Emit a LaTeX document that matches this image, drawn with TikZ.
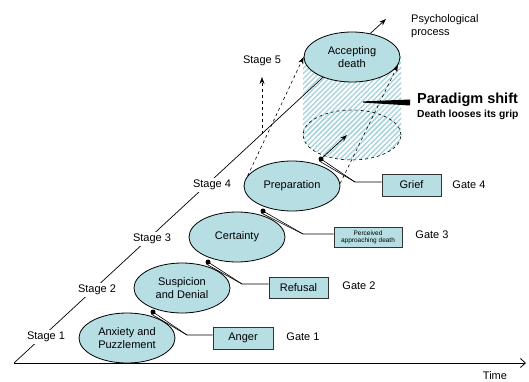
\documentclass[tikz,border=0pt]{standalone}
\usepackage{fontspec}
\setmainfont{Liberation Sans}
\usetikzlibrary{shapes.geometric,arrows.meta,patterns.meta,calc}
\definecolor{pale}{RGB}{183,222,227}
\definecolor{hatchc}{RGB}{168,213,220}
\begin{document}
\begin{tikzpicture}[x=1pt,y=-1pt,
  every node/.style={font=\fontsize{11}{13}\selectfont, text=black},
  stagenode/.style={ellipse, draw=black, line width=0.8pt, fill=pale, minimum width=96pt, minimum height=50pt, inner sep=0pt, align=center},
  gatebox/.style={rectangle, draw=black!80, line width=0.8pt, fill=pale, inner sep=0pt, align=center},
  steplabel/.style={fill=white, inner sep=2pt},
  callout/.style={line width=0.6pt},
  dotmark/.style={circle, fill=black, inner sep=0pt, minimum size=5pt},
  dasharrow/.style={dashed, line width=0.6pt, -{Stealth[length=7pt,width=5pt]}},
  hatchfill/.style={pattern={Lines[angle=45,distance=3.6pt,line width=1.4pt]}, pattern color=hatchc},
  plaintext/.style={inner sep=0pt, anchor=west, align=left}
]
\useasboundingbox (0,0) rectangle (529,382);

% hatched cylinder
\fill[hatchfill] (303,57) rectangle (401,135);
\fill[hatchfill] (352,135) ellipse [x radius=49, y radius=25];
\node[ellipse, draw=black, dashed, line width=0.6pt, minimum width=98pt, minimum height=50pt, inner sep=0pt] (ghost) at (352,135) {};

% axes
\coordinate (origin) at (14,363);
\coordinate (psy) at (386,19);
\coordinate (tend) at (526,363);
\draw[line width=0.7pt, -{Stealth[length=7pt,width=5pt]}] (origin) -- (psy);
\draw[line width=0.8pt, -{Straight Barb[length=5pt,width=9pt]}] (origin) -- (tend);
\node[inner sep=0pt] (time) at (495,376) {Time};
\node[plaintext] (psyl) at (411,26) {Psychological\\process};

% stage labels on the diagonal
\node[steplabel] (st1) at (46,337) {Stage 1};
\node[steplabel] (st2) at (97,290) {Stage 2};
\node[steplabel] (st3) at (152,239) {Stage 3};
\node[steplabel] (st4) at (212,185) {Stage 4};
\node (st5) at (262,61) {Stage 5};
\coordinate (s5base) at (262,134);
\coordinate (s5tip) at (262,77);
\draw[dasharrow] (s5base) -- (s5tip);

% stages
\node[stagenode] (anx) at (127,338) {Anxiety and\\Puzzlement};
\node[stagenode] (sus) at (182,288) {Suspicion\\and Denial};
\node[stagenode] (cer) at (237,237) {Certainty};
\node[stagenode] (pre) at (292,186) {Preparation};
\node[stagenode] (acc) at (352,57) {Accepting\\death};

% projection arrows
\draw[dasharrow] (pre.167) -- (acc.west);
\draw[dasharrow] (pre.3) -- (acc.-10);

% gate dots
\node[dotmark] (d1) at (153,312) {};
\node[dotmark] (d2) at (208,262) {};
\node[dotmark] (d3) at (263,211) {};
\node[dotmark] (d4) at (321,159) {};

% gate boxes
\node[gatebox, minimum width=60pt, minimum height=22pt] (anger) at (243,338) {Anger};
\node[gatebox, minimum width=59pt, minimum height=21pt] (refusal) at (298.5,287.5) {Refusal};
\node[gatebox, minimum width=68pt, minimum height=20pt, font=\fontsize{6.5}{7}\selectfont] (perc) at (368,237) {Perceived\\approaching death};
\node[gatebox, minimum width=59pt, minimum height=22pt] (grief) at (411.5,185) {Grief};

\node (g1) at (303,337) {Gate 1};
\node (g2) at (359,286) {Gate 2};
\node (g3) at (432,235) {Gate 3};
\node (g4) at (469,185) {Gate 4};

% callouts
\coordinate (e1) at (187,335);
\coordinate (e2) at (242,284);
\coordinate (e3) at (303,234);
\coordinate (e4) at (355,182);
\draw[callout] (d1.center) -- (e1) -- (e1 -| anger.west);
\draw[callout] ($(d1.center)+(-1.5,2.2)$) -- (e1);
\draw[callout] (d2.center) -- (e2) -- (e2 -| refusal.west);
\draw[callout] ($(d2.center)+(-1.5,2.2)$) -- (e2);
\draw[callout] (d3.center) -- (e3) -- (e3 -| perc.west);
\draw[callout] ($(d3.center)+(-1.5,2.2)$) -- (e3);
\draw[callout] (d4.center) -- (e4) -- (e4 -| grief.west);
\draw[callout] ($(d4.center)+(-1.5,2.2)$) -- (e4);

% growth arrow inside the ghost ellipse
\coordinate (gtip) at (347,135);
\draw[line width=0.8pt, -{Stealth[length=7pt,width=5pt]}] (d4.center) -- (gtip);

% paradigm shift
\node[plaintext, font=\bfseries\fontsize{14.5}{16}\selectfont] (para) at (417,100) {Paradigm shift};
\node[plaintext, font=\bfseries\fontsize{10.3}{12}\selectfont] (grip) at (417,115) {Death looses its grip};
\fill (363,101.4) -- (410,99.5) -- (410,105.5) -- (363,102.6) -- cycle;
\end{tikzpicture}
\end{document}
